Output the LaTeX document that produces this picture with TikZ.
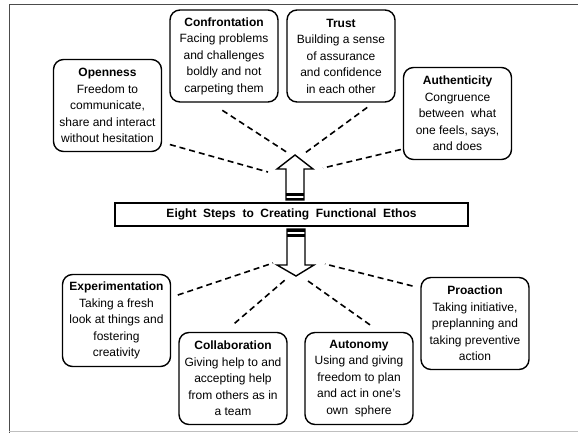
\documentclass[tikz,border=0pt]{standalone}
\usepackage{fontspec}
\setmainfont{Liberation Sans}
\begin{document}
\begin{tikzpicture}[x=1pt, y=-1pt,
  value node/.style={draw, rounded corners=10pt, line width=1.4pt, minimum width=108pt, minimum height=92pt, align=center, inner sep=2pt},
  title node/.style={draw, line width=1.2pt, minimum width=353pt, minimum height=23pt, inner sep=0pt, font=\fontsize{12}{14}\selectfont\bfseries},
  link/.style={dash pattern=on 6pt off 4pt, line width=1.6pt},
  big arrow/.style={draw, line width=1.4pt, fill=white}]
  \tikzstyle{every node}=[font=\fontsize{12}{16.5}\selectfont]
  \useasboundingbox (0,0) rectangle (578,433);
  \draw[black!70, line width=1pt] (9,433) -- (9,5) -- (578,5);
  \draw[black!25, line width=0.8pt] (9,431) -- (578,431);

  \node[title node] (ethos) at (291.5,214.5) {Eight\ \ Steps\ \ to\ \ Creating\ \ Functional\ \ Ethos};

  \node[value node] (open) at (107.5,105.5) {\textbf{Openness}\\Freedom to\\communicate,\\share and interact\\without hesitation};
  \node[value node] (conf) at (224,56) {\textbf{Confrontation}\\Facing problems\\and challenges\\boldly and not\\carpeting them};
  \node[value node] (trust) at (341,56) {\textbf{Trust}\\Building a sense\\of assurance\\and confidence\\in each other};
  \node[value node] (auth) at (457.5,113.5) {\textbf{Authenticity}\\Congruence\\between\ \ what\\one feels, says,\\and does};
  \node[value node] (exper) at (116.5,320.5) {\textbf{Experimentation}\\Taking a fresh\\look at things and\\fostering\\creativity};
  \node[value node] (collab) at (233,378.5) {\textbf{Collaboration}\\Giving help to and\\accepting help\\from others as in\\a team};
  \node[value node] (auton) at (359,378.5) {\textbf{Autonomy}\\Using and giving\\freedom to plan\\and act in one's\\own\ \ sphere};
  \node[value node] (proac) at (475,323.5) {\textbf{Proaction}\\Taking initiative,\\preplanning and\\taking preventive\\action};

  \draw[big arrow] (286,200) -- (286,169) -- (277,169) -- (295,155) -- (313,169) -- (304,169) -- (304,200) -- cycle;
  \fill (286,193) rectangle (304,195.5);
  \fill (286,197.5) rectangle (304,200);
  \draw[big arrow] (287,229) -- (287,265) -- (277,265) -- (296,276) -- (314,265) -- (305,265) -- (305,229) -- cycle;
  \fill (287,229) rectangle (305,232);
  \fill (287,234) rectangle (305,237);

  \coordinate (u1) at (268,172);
  \coordinate (u2) at (288,153);
  \coordinate (u3) at (305,153);
  \coordinate (u4) at (323,168);
  \coordinate (d1) at (273,263);
  \coordinate (d2) at (285,280);
  \coordinate (d3) at (308,281);
  \coordinate (d4) at (325,264);

  \path[link]
    (open.-34) edge[shorten <=8pt] (u1)
    (conf.-106) edge[shorten <=14pt] (u2)
    (trust.-55) edge[shorten <=8pt] (u3)
    (auth.-147) edge[shorten <=2pt] (u4)
    (exper.23) edge[shorten <=7pt] (d1)
    (collab.100) edge[shorten <=13pt] (d2)
    (auton.66) edge[shorten <=12pt] (d3)
    (proac.147) edge[shorten <=8pt] (d4);
\end{tikzpicture}
\end{document}
